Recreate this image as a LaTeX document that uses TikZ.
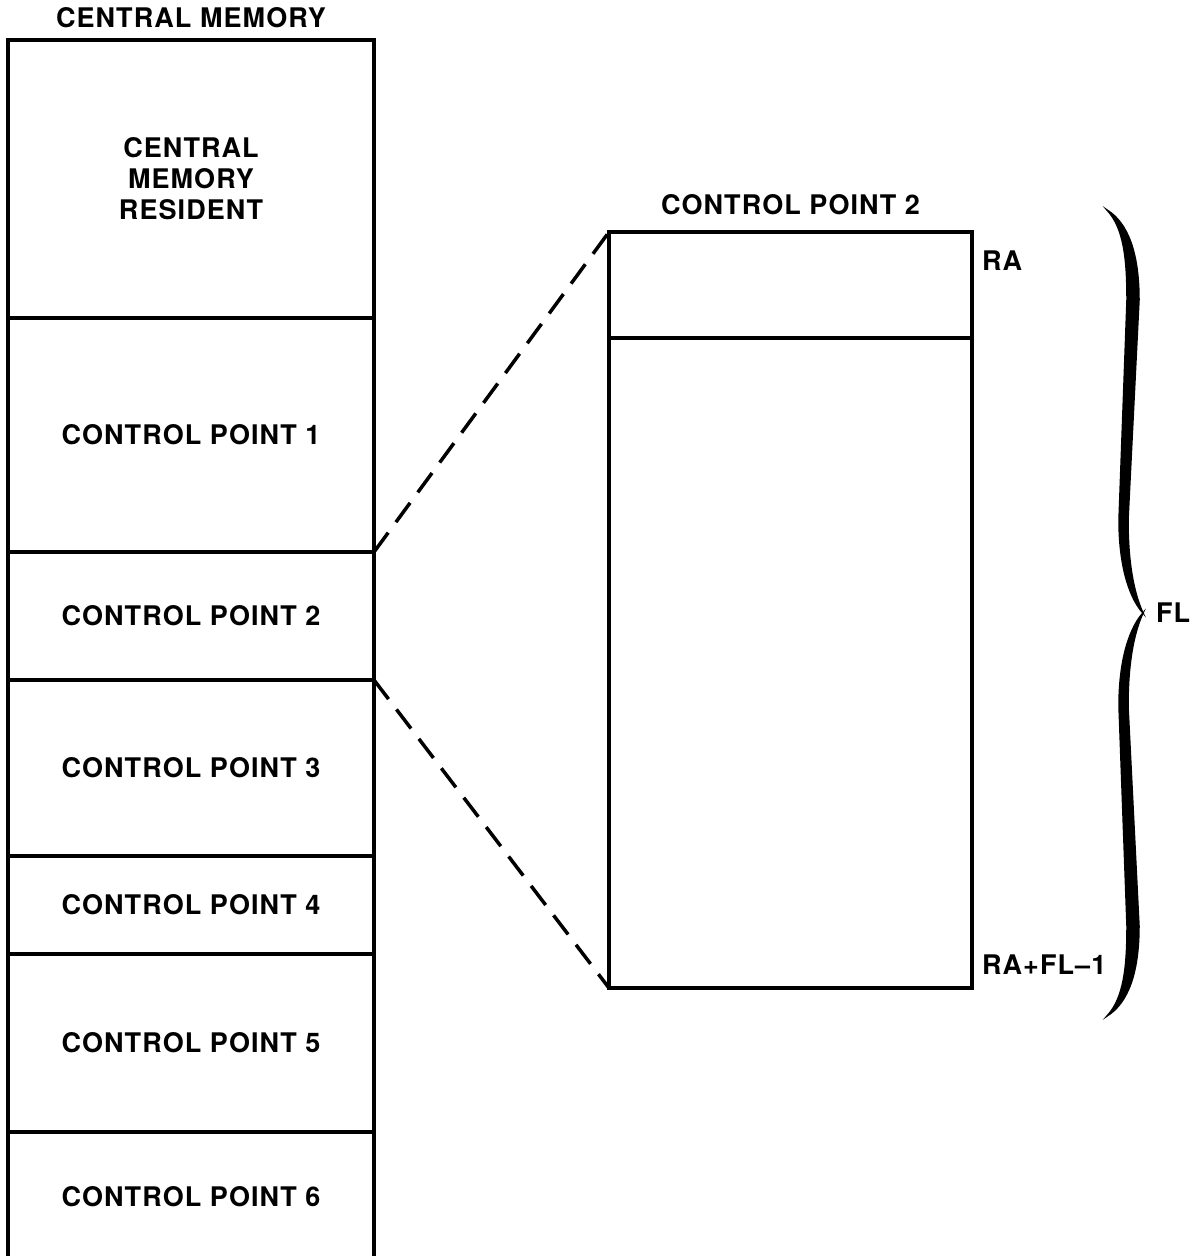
\documentclass[tikz,border=0pt]{standalone}
\usepackage{fontspec}
\setsansfont{TeX Gyre Heros}[LetterSpace=4]
\usetikzlibrary{positioning, calc}

\begin{document}
\begin{tikzpicture}[x=1pt, y=-1pt,
  font=\sffamily\bfseries\fontsize{27}{31}\selectfont,
  seg/.style={draw, line width=3.5pt, minimum width=366pt, outer sep=0pt, inner sep=0pt, align=center},
  ttl/.style={inner sep=0pt, outer sep=0pt},
  zoomline/.style={line width=3.5pt, dash pattern=on 24pt off 13pt},
]
  \useasboundingbox (0,0) rectangle (1193,1256);
  % central memory column
  \node[seg, minimum height=278pt] (res) at (191,179) {CENTRAL\\MEMORY\\RESIDENT};
  \node[seg, minimum height=234pt, below=0pt of res] (cp1) {CONTROL POINT 1};
  \node[seg, minimum height=128pt, below=0pt of cp1] (cp2) {CONTROL POINT 2};
  \node[seg, minimum height=176pt, below=0pt of cp2] (cp3) {CONTROL POINT 3};
  \node[seg, minimum height=98pt, below=0pt of cp3] (cp4) {CONTROL POINT 4};
  \node[seg, minimum height=178pt, below=0pt of cp4] (cp5) {CONTROL POINT 5};
  \node[seg, minimum height=130pt, below=0pt of cp5] (cp6) {CONTROL POINT 6};
  \node[ttl, above=12pt of res] (cmtitle) {CENTRAL MEMORY};
  % enlarged control point 2
  \node[seg, minimum width=363pt, minimum height=756pt] (part) at (790.5,610) {};
  \draw[line width=3.5pt] ($(part.north west)+(0,106)$) -- ($(part.north east)+(0,106)$);
  \node[ttl, above=17pt of part] (parttitle) {CONTROL POINT 2};
  \node[ttl, anchor=west] (ra) at ($(part.north east)+(10,29)$) {RA};
  \node[ttl, anchor=west] (ralast) at ($(part.south east)+(10,-23)$) {RA+FL–1};
  \draw[zoomline] (cp2.north east) -- (part.north west);
  \draw[zoomline] (cp2.south east) -- (part.south west);
  % brace
  \foreach \s in {1,-1}
    \filldraw[line width=1.5pt, shift={(0,613)}, yscale=\s]
      (1107,-403) .. controls (1124,-385) and (1127,-353) .. (1127,-313)
      -- (1119,-93) .. controls (1119,-43) and (1131,-13) .. (1143,0)
      .. controls (1136,-15) and (1128,-43) .. (1128,-93)
      -- (1139,-313) .. controls (1139,-360) and (1128,-390) .. (1107,-403) -- cycle;
  \node[ttl, anchor=west] (fl) at (1156,613) {FL};
\end{tikzpicture}
\end{document}
